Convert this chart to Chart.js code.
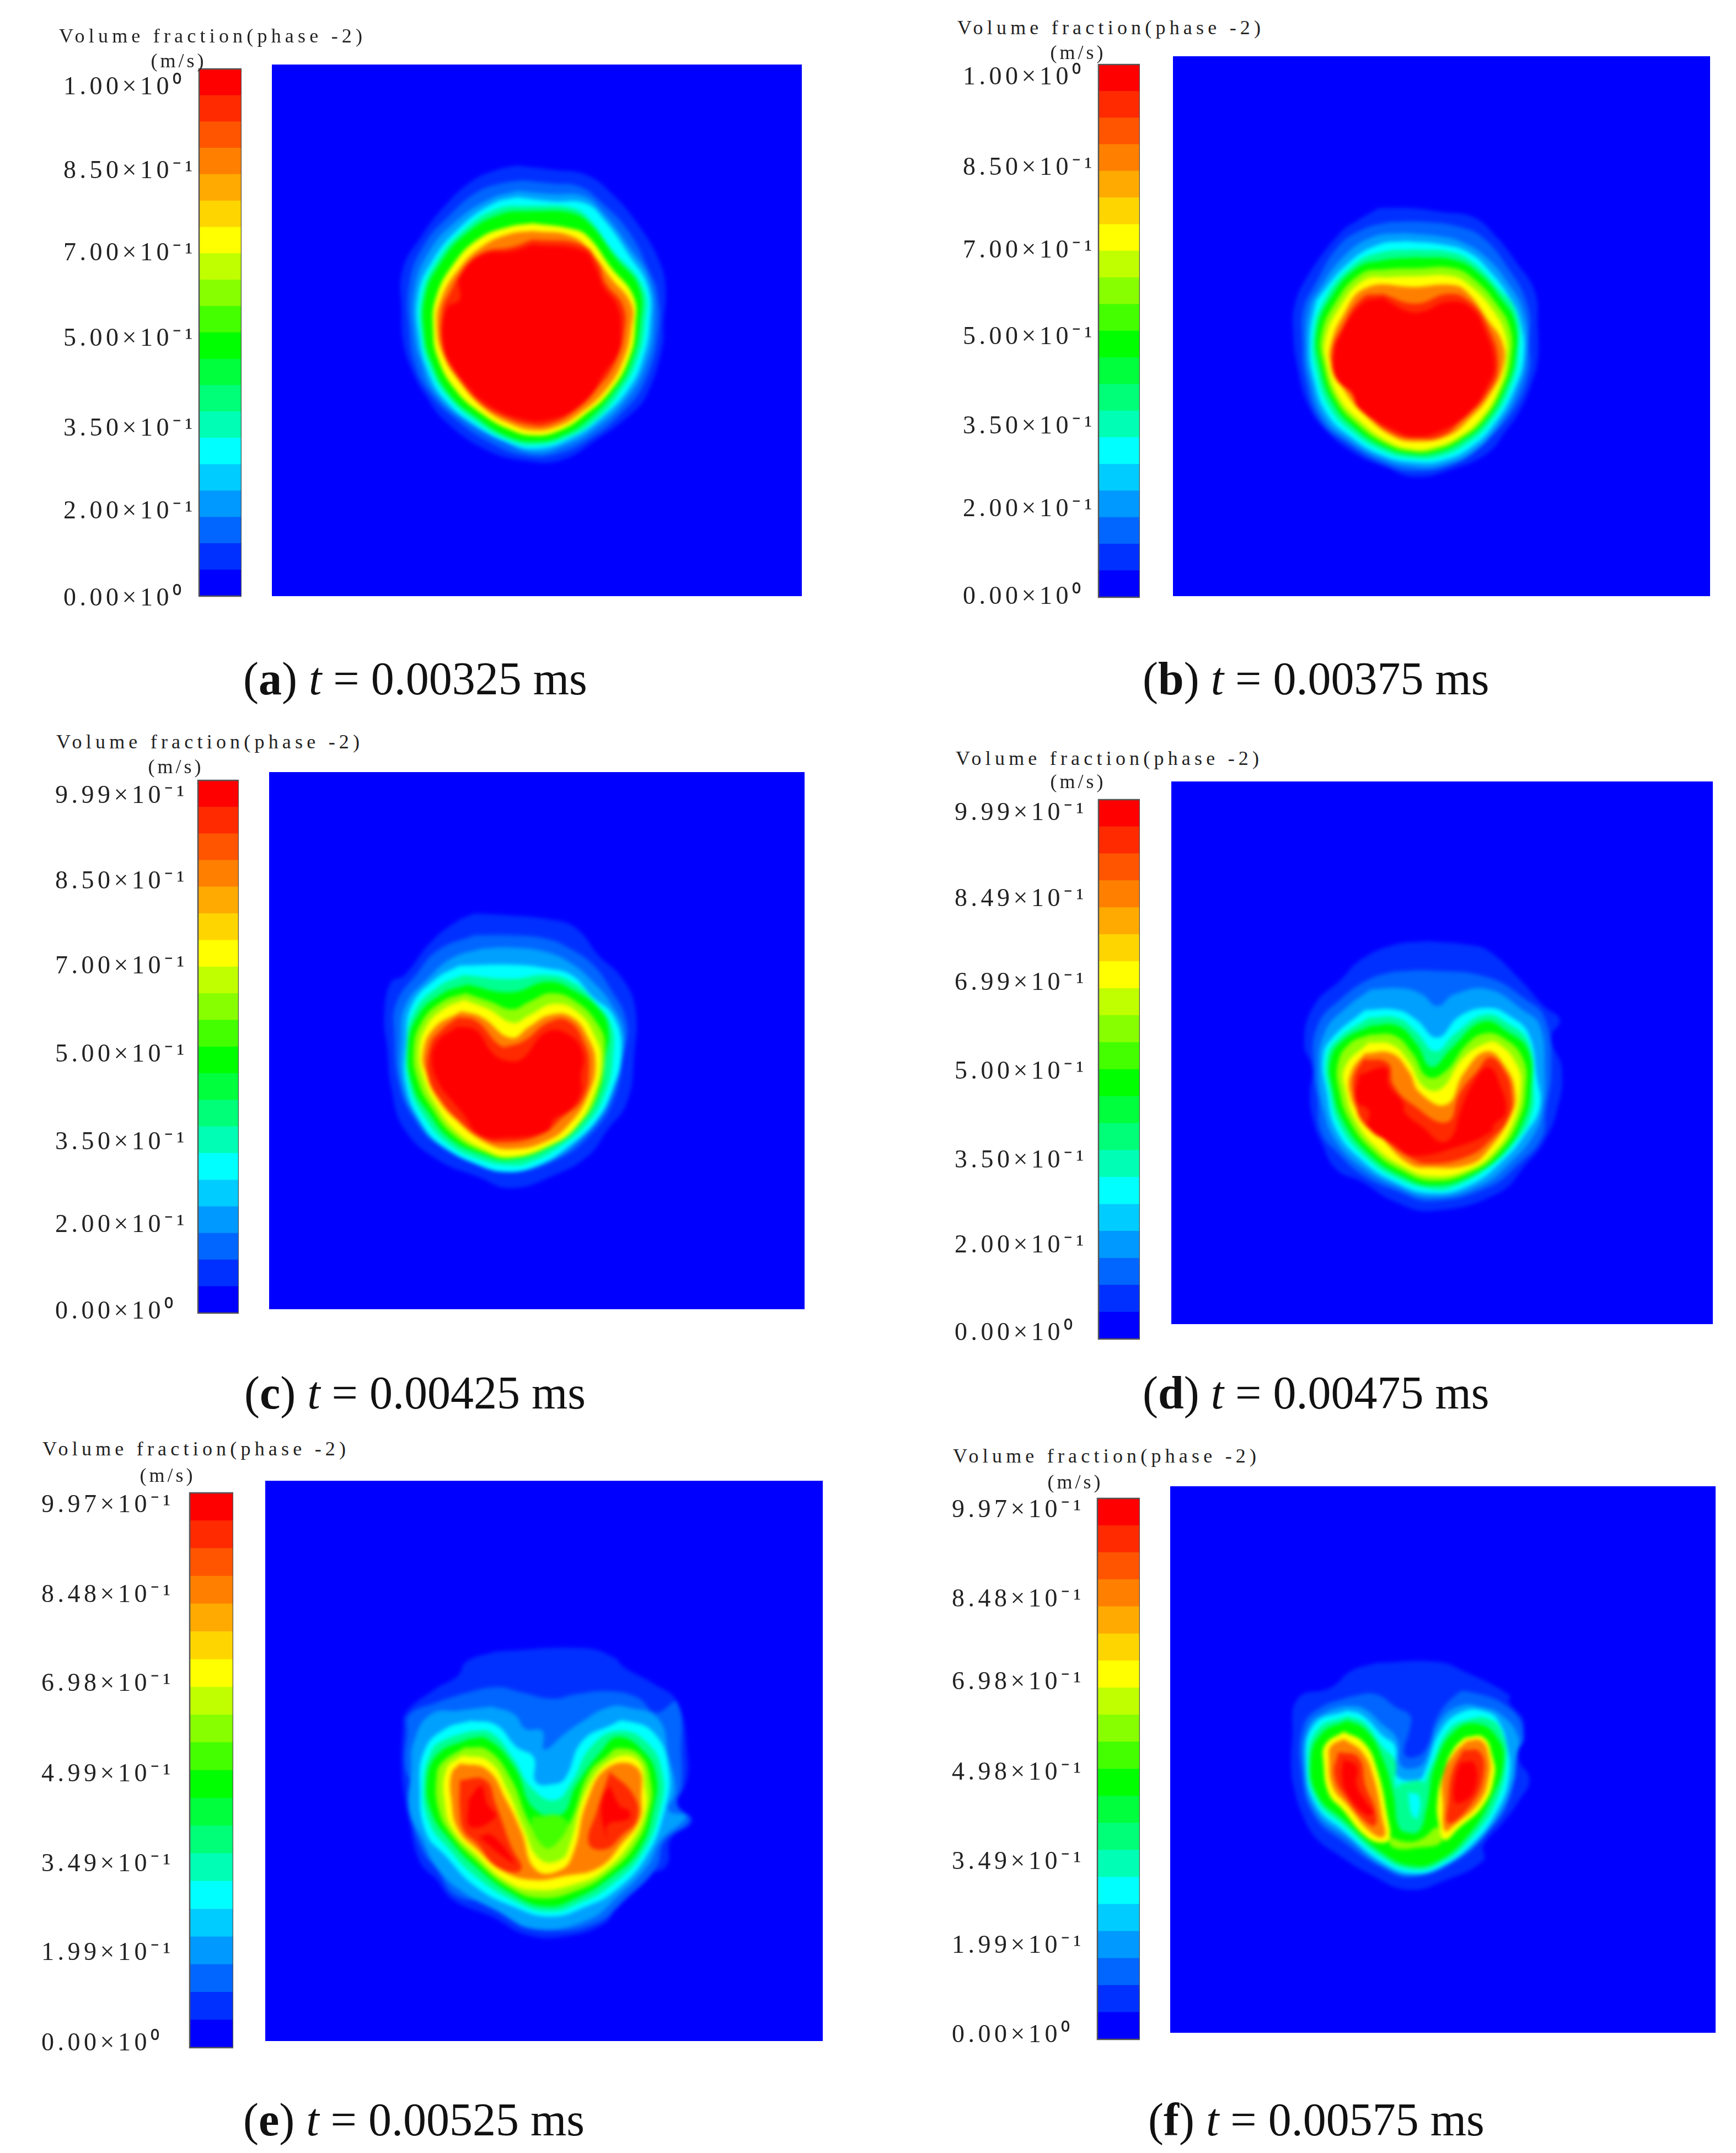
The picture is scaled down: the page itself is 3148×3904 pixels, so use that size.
<!DOCTYPE html>
<html>
<head>
<meta charset="utf-8">
<script src="https://cdn.jsdelivr.net/npm/chart.js@4"></script>
<style>
html, body { margin: 0; padding: 0; background: #fff; }
#page { position: relative; width: 3148px; height: 3904px; overflow: hidden; }
.clip { position: absolute; overflow: hidden; background: #0000ff; }
.clip canvas { position: absolute; filter: blur(3.5px); }
.bar { position: absolute; }
.legendTitle { position: absolute; font: 36px "Liberation Serif", serif; letter-spacing: 7.2px; color: #222; white-space: pre; transform: translateY(-50%); }
.unit { position: absolute; font: 36px "Liberation Serif", serif; letter-spacing: 5px; color: #222; transform: translate(-50%, -50%); }
.caption { position: absolute; font: 84px "Liberation Serif", serif; color: #111; white-space: pre; transform: translateY(-50%); }
</style>
</head>
<body>
<div id="page"></div>
<script>
// colour bar bands, bottom to top
var bandColors = ['#0000ff', '#0030ff', '#0066ff', '#0099ff', '#00ccff', '#00ffff', '#00ffb4', '#00ff78', '#00ff3c', '#00ff00',
                  '#44ff00', '#88ff00', '#c0ff00', '#ffff00', '#ffd500', '#ffaa00', '#ff8000', '#ff5500', '#ff2a00', '#ff0000'];

// contour fill colours used by the loops below
var levelColors = ['#0030ff', '#0066ff', '#00ffff', '#00ff00', '#ffff00', '#ff8000', '#ff2a00', '#ff0000', '#90ff00', '#00ff90', '#00a0ff', '', '#44ff00'];

var captionLetters = ['a', 'b', 'c', 'd', 'e', 'f'];
var captionTimes = ['0.00325', '0.00375', '0.00425', '0.00475', '0.00525', '0.00575'];

var tickLabelsA = ['1.00×10⁰', '8.50×10⁻¹', '7.00×10⁻¹', '5.00×10⁻¹', '3.50×10⁻¹', '2.00×10⁻¹', '0.00×10⁰'];
var tickLabelsB = tickLabelsA;
var tickLabelsC = ['9.99×10⁻¹', '8.50×10⁻¹', '7.00×10⁻¹', '5.00×10⁻¹', '3.50×10⁻¹', '2.00×10⁻¹', '0.00×10⁰'];
var tickLabelsD = ['9.99×10⁻¹', '8.49×10⁻¹', '6.99×10⁻¹', '5.00×10⁻¹', '3.50×10⁻¹', '2.00×10⁻¹', '0.00×10⁰'];
var tickLabelsE = ['9.97×10⁻¹', '8.48×10⁻¹', '6.98×10⁻¹', '4.99×10⁻¹', '3.49×10⁻¹', '1.99×10⁻¹', '0.00×10⁰'];
var tickLabelsF = ['9.97×10⁻¹', '8.48×10⁻¹', '6.98×10⁻¹', '4.98×10⁻¹', '3.49×10⁻¹', '1.99×10⁻¹', '0.00×10⁰'];

// where those labels sit on the bar, counted in bands from the bottom
var tickSpotsA = [19.3, 16.1, 13, 9.75, 6.35, 3.2, -0.1];
var tickSpotsB = [19.5, 16.1, 13, 9.75, 6.4, 3.3, 0];
var tickSpotsC = [19.4, 16.2, 13, 9.7, 6.4, 3.3, 0.05];
var tickSpotsD = [19.5, 16.3, 13.2, 9.9, 6.6, 3.45, 0.2];
var tickSpotsE = [19.55, 16.3, 13.1, 9.85, 6.6, 3.4, 0.15];
var tickSpotsF = [19.55, 16.25, 13.2, 9.85, 6.55, 3.45, 0.15];

// contour loops, x,y,x,y... in field units, one level index per loop
var loopLevelsA = [0, 1, 10, 2, 9, 3, 4, 5, 6, 7];
var loopsA = [
  [720,105, 900,125, 1075,150, 1210,245, 1340,390, 1440,550, 1475,680, 1465,860, 1460,960, 1380,1190, 1290,1290, 1130,1400, 950,1500, 770,1505, 560,1450, 350,1310, 255,1190, 195,1090, 145,950, 135,790, 140,600, 235,440, 360,290, 490,180, 620,125],
  [750,175, 900,190, 1040,205, 1150,280, 1290,420, 1400,620, 1432,700, 1440,880, 1370,1130, 1250,1280, 1090,1400, 930,1470, 770,1480, 590,1420, 400,1300, 260,1160, 200,1040, 175,900, 175,660, 250,480, 380,340, 520,230, 640,190],
  [720,225, 900,240, 1060,250, 1160,330, 1290,490, 1395,650, 1415,860, 1370,1060, 1270,1220, 1120,1350, 970,1430, 800,1465, 630,1400, 450,1310, 300,1180, 235,1040, 200,900, 200,700, 270,520, 410,370, 580,265],
  [720,255, 900,275, 1070,285, 1170,370, 1290,530, 1385,680, 1395,850, 1360,1020, 1290,1160, 1150,1300, 1000,1395, 830,1445, 680,1420, 500,1330, 350,1210, 270,1080, 225,920, 220,720, 290,560, 430,400, 600,285],
  [800,295, 1000,305, 1090,360, 1200,500, 1360,680, 1370,860, 1330,1030, 1250,1170, 1120,1310, 970,1395, 820,1428, 680,1405, 510,1315, 370,1200, 280,1060, 238,910, 240,720, 310,565, 445,415, 620,310],
  [800,320, 1000,330, 1100,390, 1220,540, 1340,680, 1345,860, 1300,1040, 1220,1170, 1080,1310, 950,1385, 820,1412, 680,1390, 520,1300, 380,1190, 290,1040, 250,900, 255,720, 330,570, 460,430, 640,335],
  [800,378, 1000,405, 1080,440, 1200,590, 1310,720, 1322,860, 1290,1020, 1190,1180, 1060,1290, 940,1360, 810,1385, 680,1355, 540,1280, 410,1170, 320,1020, 295,880, 310,730, 400,570, 530,450, 680,395],
  [800,415, 1000,440, 1100,520, 1200,640, 1300,760, 1300,880, 1260,1030, 1170,1170, 1040,1280, 930,1340, 810,1360, 690,1330, 560,1260, 440,1140, 350,1010, 315,880, 335,740, 430,590, 550,485, 680,430],
  [800,455, 1050,480, 1130,560, 1170,660, 1260,770, 1265,900, 1220,1040, 1130,1160, 1010,1270, 890,1330, 790,1335, 640,1290, 520,1220, 420,1110, 350,990, 340,800, 390,690, 440,610, 540,520, 700,490],
  [800,480, 1060,510, 1120,590, 1160,680, 1230,770, 1250,900, 1230,1000, 1170,1080, 1060,1230, 880,1310, 720,1300, 560,1230, 470,1150, 390,1050, 345,950, 365,780, 430,740, 430,630, 540,530, 700,510]
];

var loopLevelsB = [0, 1, 10, 2, 9, 3, 8, 4, 5, 6, 7];
var loopsB = [
  [600,105, 780,105, 950,125, 1115,150, 1240,250, 1345,375, 1450,530, 1465,700, 1465,880, 1430,1000, 1370,1130, 1290,1240, 1190,1350, 1000,1430, 800,1470, 640,1420, 470,1350, 310,1230, 215,1100, 160,920, 135,730, 145,590, 220,440, 390,230, 480,170],
  [660,175, 850,175, 1040,200, 1160,250, 1290,390, 1410,600, 1420,800, 1420,930, 1340,1120, 1180,1290, 1020,1400, 800,1440, 620,1400, 430,1300, 280,1180, 200,960, 185,780, 190,620, 250,500, 380,300, 520,210],
  [740,230, 950,250, 1060,280, 1180,350, 1300,480, 1390,640, 1405,850, 1360,1030, 1250,1210, 1120,1340, 950,1410, 800,1420, 620,1380, 430,1280, 300,1170, 225,970, 205,800, 225,610, 275,520, 410,350, 570,250],
  [750,272, 950,290, 1090,330, 1200,420, 1320,570, 1370,680, 1390,850, 1340,1020, 1230,1200, 1100,1320, 950,1385, 800,1395, 620,1360, 440,1260, 320,1150, 250,980, 225,800, 255,600, 290,540, 440,380, 600,290],
  [800,315, 1000,330, 1120,385, 1240,500, 1345,630, 1360,850, 1315,1020, 1205,1195, 1075,1305, 935,1365, 795,1375, 630,1340, 455,1240, 335,1120, 265,940, 245,765, 300,580, 460,395, 610,330],
  [800,355, 1020,370, 1150,440, 1270,570, 1340,680, 1345,850, 1290,1020, 1180,1190, 1050,1290, 920,1345, 790,1355, 640,1320, 470,1220, 350,1090, 280,900, 265,730, 340,560, 480,410, 620,370],
  [800,410, 1010,410, 1125,470, 1245,595, 1315,715, 1320,865, 1275,1015, 1170,1180, 1040,1280, 910,1332, 790,1342, 645,1305, 480,1200, 365,1075, 298,890, 288,750, 360,590, 500,440, 640,415],
  [800,450, 1000,450, 1100,500, 1220,620, 1290,750, 1295,880, 1260,1010, 1160,1170, 1030,1270, 900,1320, 790,1330, 650,1290, 490,1180, 380,1060, 315,880, 310,770, 380,620, 520,470, 660,455],
  [800,505, 1000,495, 1080,530, 1200,680, 1270,780, 1280,900, 1200,1060, 1100,1170, 980,1260, 800,1290, 670,1260, 510,1140, 420,1040, 340,890, 340,800, 400,660, 530,510],
  [620,540, 800,590, 980,540, 1090,575, 1190,700, 1250,900, 1180,1060, 1060,1170, 950,1260, 800,1275, 680,1250, 560,1170, 460,1050, 360,960, 350,820, 390,730, 510,560],
  [620,560, 760,630, 840,630, 980,580, 1100,610, 1180,730, 1230,900, 1190,1010, 1100,1140, 950,1230, 800,1265, 680,1230, 500,1130, 450,1040, 380,980, 355,870, 390,750, 510,590]
];

var loopLevelsC = [0, 1, 10, 2, 9, 3, 8, 4, 5, 6, 7];
var loopsC = [
  [600,105, 780,115, 1000,135, 1150,180, 1280,330, 1400,440, 1475,600, 1470,850, 1430,1100, 1320,1250, 1220,1380, 1040,1480, 800,1550, 620,1490, 400,1400, 220,1240, 150,1030, 125,800, 110,660, 145,470, 220,430, 360,260, 500,150],
  [600,220, 800,220, 1000,240, 1120,290, 1240,370, 1340,500, 1430,680, 1410,850, 1360,1080, 1240,1260, 1050,1400, 800,1460, 600,1400, 400,1320, 270,1180, 190,1000, 165,750, 175,580, 290,420, 400,300],
  [640,290, 800,285, 1000,310, 1130,370, 1240,460, 1350,590, 1415,750, 1380,950, 1310,1130, 1170,1300, 1000,1410, 790,1462, 600,1410, 415,1325, 300,1200, 210,1010, 200,760, 225,590, 345,450, 480,340],
  [520,380, 800,375, 1000,395, 1130,430, 1240,540, 1360,650, 1400,850, 1350,1040, 1270,1190, 1100,1340, 950,1430, 780,1465, 600,1420, 430,1330, 320,1220, 230,1010, 230,780, 260,590, 390,450],
  [540,430, 800,450, 1000,430, 1140,470, 1260,575, 1345,690, 1355,860, 1315,1045, 1220,1205, 1060,1335, 900,1415, 790,1430, 620,1395, 450,1310, 335,1185, 250,1015, 235,800, 275,620, 405,490],
  [560,480, 800,520, 1000,465, 1140,510, 1280,610, 1330,720, 1310,880, 1280,1050, 1170,1220, 1020,1330, 800,1400, 640,1370, 470,1290, 350,1150, 270,1020, 240,820, 290,650, 420,530],
  [552,525, 690,570, 805,610, 900,570, 1020,525, 1155,570, 1270,685, 1310,800, 1270,1055, 1160,1225, 1020,1325, 800,1392, 650,1360, 485,1270, 370,1130, 295,990, 270,825, 315,675, 425,570],
  [545,560, 680,610, 810,680, 900,640, 1040,580, 1170,630, 1260,760, 1290,880, 1250,1060, 1150,1230, 1020,1320, 800,1385, 660,1350, 500,1250, 390,1110, 320,960, 300,830, 340,700, 430,610],
  [530,620, 640,650, 800,760, 900,700, 1010,640, 1130,650, 1220,760, 1260,900, 1220,1060, 1130,1200, 1000,1300, 800,1345, 660,1310, 500,1190, 400,1080, 340,950, 320,850, 380,710],
  [510,650, 610,670, 740,800, 800,800, 880,770, 1000,680, 1110,670, 1200,790, 1225,920, 1190,1080, 1090,1170, 960,1270, 760,1310, 630,1280, 500,1180, 420,1090, 350,970, 360,800, 420,720],
  [510,700, 610,720, 700,840, 780,880, 860,870, 990,730, 1110,740, 1190,840, 1180,970, 1180,1050, 1120,1140, 1030,1190, 1000,1250, 780,1285, 630,1270, 540,1160, 470,1080, 420,1020, 370,890, 400,780]
];

var loopLevelsD = [0, 1, 10, 2, 9, 3, 8, 4, 5, 6, 7];
var loopsD = [
  [780,130, 1000,150, 1100,180, 1260,320, 1390,460, 1475,530, 1430,620, 1485,780, 1460,990, 1390,1150, 1300,1260, 1150,1410, 800,1500, 600,1450, 430,1350, 300,1290, 220,1150, 175,1030, 160,900, 175,780, 130,650, 180,460, 330,320, 420,230, 600,150],
  [600,285, 800,280, 1100,315, 1300,430, 1395,520, 1430,770, 1400,1000, 1380,1130, 1260,1260, 1100,1380, 800,1450, 620,1400, 440,1320, 300,1200, 220,1100, 200,930, 180,790, 200,560, 340,410, 480,320],
  [480,375, 650,370, 750,400, 830,460, 920,400, 1100,375, 1280,480, 1370,560, 1395,800, 1385,980, 1340,1110, 1220,1250, 1050,1375, 800,1430, 610,1375, 435,1280, 300,1150, 235,1000, 205,790, 240,590, 350,470],
  [450,480, 620,480, 720,530, 830,620, 950,510, 1100,470, 1210,510, 1310,600, 1355,830, 1370,970, 1300,1100, 1180,1240, 1000,1370, 800,1410, 600,1350, 430,1240, 300,1090, 250,900, 230,720, 280,620],
  [470,520, 620,520, 720,590, 820,690, 925,600, 1080,505, 1205,550, 1310,645, 1335,860, 1325,1010, 1240,1150, 1105,1275, 925,1375, 810,1390, 620,1335, 450,1225, 320,1070, 265,890, 250,725, 310,625],
  [480,560, 620,560, 720,650, 800,770, 900,680, 1070,540, 1200,590, 1310,690, 1320,900, 1280,1050, 1180,1200, 1030,1310, 820,1370, 640,1320, 470,1210, 340,1050, 280,880, 270,730, 340,630],
  [475,605, 605,610, 700,700, 780,820, 875,790, 980,660, 1075,600, 1175,620, 1280,725, 1295,890, 1255,1050, 1155,1200, 1015,1300, 810,1348, 640,1295, 485,1190, 370,1045, 315,890, 308,750, 370,650],
  [470,645, 590,655, 680,740, 760,870, 850,880, 960,730, 1080,650, 1150,650, 1250,760, 1270,880, 1230,1050, 1130,1200, 1000,1290, 800,1325, 640,1270, 500,1170, 400,1040, 350,900, 345,770],
  [450,700, 590,700, 680,790, 740,900, 880,960, 970,800, 1090,690, 1190,770, 1240,900, 1220,1010, 1100,1190, 1000,1265, 800,1280, 680,1260, 530,1120, 430,1020, 370,900, 380,790],
  [440,730, 570,750, 600,860, 700,960, 880,1050, 950,900, 1040,790, 1110,720, 1190,800, 1220,900, 1210,1020, 1120,1130, 1000,1220, 780,1260, 670,1220, 540,1130, 430,1040, 400,930, 390,830],
  [420,810, 560,775, 575,860, 650,950, 660,1000, 760,1080, 850,1150, 910,1120, 950,1000, 1020,850, 1100,770, 1160,860, 1190,1000, 1130,1060, 1110,1100, 950,1170, 700,1220, 600,1160, 470,1080, 470,990, 400,940]
];

var loopLevelsE = [0, 1, 10, 2, 9, 3, 12, 8, 4, 5, 6, 6, 7, 7, 7];
var loopsE = [
  [520,120, 940,105, 1080,150, 1130,200, 1270,280, 1380,370, 1430,650, 1420,770, 1380,870, 1450,950, 1350,1040, 1330,1170, 1240,1220, 1090,1370, 1040,1450, 860,1515, 670,1510, 500,1420, 320,1340, 240,1240, 160,1150, 110,950, 90,850, 75,700, 80,510, 95,420, 240,300, 340,240, 380,170],
  [370,325, 520,295, 640,320, 790,352, 900,330, 1050,315, 1190,345, 1280,420, 1380,370, 1400,640, 1400,780, 1380,870, 1440,950, 1320,1050, 1280,1180, 1130,1340, 1000,1450, 780,1490, 620,1450, 480,1360, 320,1310, 250,1200, 170,1090, 120,920, 120,780, 90,680, 100,520, 110,430, 240,370],
  [500,390, 610,430, 660,500, 740,510, 750,600, 850,520, 920,470, 1050,395, 1150,395, 1290,450, 1340,640, 1370,800, 1340,900, 1420,930, 1300,1050, 1240,1170, 1100,1320, 950,1440, 700,1480, 540,1400, 350,1290, 240,1180, 170,1040, 110,900, 120,700, 130,570, 210,430, 350,410],
  [400,460, 520,480, 620,590, 700,640, 710,760, 800,770, 850,740, 930,560, 1070,480, 1130,460, 1270,520, 1340,700, 1320,900, 1230,1130, 1090,1290, 950,1370, 780,1420, 600,1370, 420,1270, 280,1120, 190,1010, 160,790, 185,600, 280,500],
  [400,510, 500,520, 600,640, 690,790, 800,850, 880,760, 970,590, 1100,510, 1240,570, 1310,720, 1300,890, 1215,1110, 1075,1260, 925,1350, 770,1395, 600,1340, 420,1220, 290,1080, 205,960, 178,770, 215,610, 265,560],
  [390,550, 480,550, 610,690, 700,890, 830,920, 900,780, 1020,610, 1100,540, 1220,610, 1280,730, 1270,880, 1200,1090, 1060,1230, 900,1330, 760,1370, 600,1310, 420,1170, 300,1040, 220,920, 195,750, 250,620],
  [690,930, 840,935, 870,1060, 700,1070],
  [375,590, 485,605, 595,750, 670,940, 750,1080, 810,1060, 880,940, 960,720, 1050,630, 1100,595, 1205,630, 1255,765, 1250,890, 1185,1065, 1050,1210, 900,1295, 730,1330, 580,1275, 420,1140, 310,1020, 250,900, 240,725, 270,660],
  [360,630, 490,660, 580,810, 650,980, 730,1140, 830,1140, 870,1070, 950,800, 1070,650, 1190,650, 1230,800, 1230,900, 1170,1040, 1040,1190, 900,1260, 700,1290, 560,1240, 420,1110, 320,1000, 280,880, 285,700],
  [350,670, 480,700, 570,850, 640,1000, 710,1190, 830,1190, 890,1100, 950,860, 1050,690, 1190,690, 1210,850, 1200,950, 1120,1060, 1010,1180, 850,1220, 700,1240, 560,1200, 430,1090, 340,990, 310,850, 310,720],
  [350,750, 470,750, 520,870, 590,1070, 640,1190, 530,1180, 430,1060, 370,1000, 350,900],
  [1060,710, 1170,820, 1190,940, 1120,1020, 1040,1090, 960,1060, 1000,900],
  [390,850, 450,780, 480,870, 520,930, 400,980],
  [440,1030, 500,1020, 610,1160, 560,1130],
  [1060,780, 1110,880, 1150,900, 1150,940, 1050,970, 1050,1040, 1020,920, 1030,830]
];

var loopLevelsF = [0, 1, 10, 2, 9, 3, 9, 2, 8, 4, 4, 5, 5, 6, 6, 7, 7];
var loopsF = [
  [530,105, 860,100, 1000,150, 1250,280, 1250,320, 1330,430, 1300,620, 1360,740, 1300,860, 1220,970, 1110,1100, 1110,1180, 900,1290, 700,1340, 500,1260, 320,1150, 200,1060, 120,920, 80,790, 65,690, 70,520, 100,300, 280,240, 390,150],
  [380,290, 520,275, 640,350, 710,390, 710,460, 680,600, 730,620, 800,570, 860,400, 960,280, 1020,260, 1250,350, 1330,500, 1280,620, 1250,850, 1120,1040, 950,1190, 720,1270, 560,1220, 350,1080, 190,940, 120,700, 130,450, 220,350],
  [350,340, 450,350, 560,440, 640,520, 660,660, 730,680, 790,640, 870,430, 980,340, 1100,345, 1210,390, 1300,510, 1290,620, 1265,780, 1150,1000, 980,1160, 740,1260, 560,1210, 370,1060, 200,920, 135,680, 160,450, 260,370],
  [370,365, 450,390, 560,500, 630,560, 640,720, 760,740, 790,700, 880,470, 1000,370, 1120,370, 1190,420, 1240,560, 1250,720, 1190,900, 1050,1090, 870,1220, 720,1250, 560,1190, 350,1020, 200,880, 145,650, 190,440],
  [370,395, 460,430, 560,560, 630,640, 640,780, 760,790, 820,680, 920,470, 1040,410, 1140,410, 1210,480, 1235,640, 1180,860, 1040,1065, 870,1200, 720,1230, 560,1165, 350,990, 205,855, 158,645, 210,465],
  [370,420, 470,470, 560,620, 620,820, 650,1000, 700,1030, 760,1020, 800,900, 850,650, 960,470, 1090,440, 1190,520, 1220,640, 1160,830, 1030,1040, 870,1180, 720,1210, 560,1140, 350,960, 210,830, 170,640, 230,490],
  [650,760, 790,760, 770,900, 740,980, 690,980, 660,880],
  [700,810, 760,830, 750,950, 720,930],
  [590,1050, 700,1080, 780,1060, 860,1000, 880,1080, 760,1110, 620,1110],
  [350,480, 460,540, 530,680, 590,950, 600,1060, 560,1085, 470,1050, 340,900, 270,820, 240,650, 250,550],
  [1010,510, 1110,510, 1160,620, 1170,720, 1110,880, 970,1010, 900,1070, 870,1000, 860,850, 900,680, 950,570],
  [350,520, 450,590, 510,720, 560,950, 570,1050, 500,1030, 370,880, 290,780, 270,620, 280,560],
  [1020,530, 1100,530, 1140,620, 1140,720, 1090,860, 950,990, 900,1020, 890,880, 890,720, 950,600],
  [320,590, 430,620, 470,780, 520,900, 520,990, 460,960, 370,850, 300,720],
  [1000,580, 1090,590, 1110,720, 1040,880, 920,980, 920,850, 940,700],
  [350,630, 420,670, 420,770, 470,860, 510,920, 470,930, 370,820, 340,720],
  [985,650, 1060,650, 1060,800, 980,870, 950,850, 960,720]
];

// layout of the six panels on the page, all in page pixels
var panels = [
  { loops: loopsA, levels: loopLevelsA, labels: tickLabelsA, spots: tickSpotsA, plot: [493, 117, 1454, 1081], bar: [361, 125, 438, 1081], labelX: 115, titleX: 107, titleY: 65, unitX: 324, unitY: 110, capX: 441, capY: 1230, crop: [680, 260, 2.8, 2.613] },
  { loops: loopsB, levels: loopLevelsB, labels: tickLabelsB, spots: tickSpotsB, plot: [2127, 102, 3101, 1081], bar: [1992, 117, 2067, 1083], labelX: 1746, titleX: 1736, titleY: 50, unitX: 1955, unitY: 95, capX: 2072, capY: 1230, crop: [2300, 340, 3, 2.8] },
  { loops: loopsC, levels: loopLevelsC, labels: tickLabelsC, spots: tickSpotsC, plot: [488, 1400, 1459, 2374], bar: [359, 1415, 433, 2381], labelX: 100, titleX: 102, titleY: 1345, unitX: 319, unitY: 1390, capX: 443, capY: 2525, crop: [660, 1620, 3, 2.9] },
  { loops: loopsD, levels: loopLevelsD, labels: tickLabelsD, spots: tickSpotsD, plot: [2124, 1417, 3106, 2401], bar: [1992, 1450, 2067, 2428], labelX: 1731, titleX: 1733, titleY: 1375, unitX: 1955, unitY: 1417, capX: 2072, capY: 2525, crop: [2320, 1660, 2.9, 2.8] },
  { loops: loopsE, levels: loopLevelsE, labels: tickLabelsE, spots: tickSpotsE, plot: [481, 2685, 1492, 3701], bar: [344, 2707, 423, 3713], labelX: 75, titleX: 77, titleY: 2627, unitX: 304, unitY: 2675, capX: 441, capY: 3843, crop: [700, 2950, 2.613, 2.703] },
  { loops: loopsF, levels: loopLevelsF, labels: tickLabelsF, spots: tickSpotsF, plot: [2122, 2695, 3111, 3686], bar: [1990, 2717, 2067, 3698], labelX: 1726, titleX: 1728, titleY: 2640, unitX: 1950, unitY: 2687, capX: 2082, capY: 3843, crop: [2320, 2980, 3, 3] }
];

Chart.defaults.animation = false;
var page = document.getElementById('page');

function addText(cls, x, y, html) {
    var el = document.createElement('div');
    el.className = cls;
    el.style.left = x + 'px';
    el.style.top = y + 'px';
    el.innerHTML = html;
    page.appendChild(el);
}

function toPoints(flat) {
    var pts = [];
    for (var i = 0; i < flat.length; i += 2) {
        pts.push({ x: flat[i], y: flat[i + 1] });
    }
    pts.push({ x: flat[0], y: flat[1] });  // close the loop
    return pts;
}

function drawField(p) {
    var pad = 14;  // canvas hangs over the clip so the blur has no soft edge
    var w = p.plot[2] - p.plot[0], h = p.plot[3] - p.plot[1];
    var clip = document.createElement('div');
    clip.className = 'clip';
    clip.style.cssText = 'left:' + p.plot[0] + 'px;top:' + p.plot[1] + 'px;width:' + w + 'px;height:' + h + 'px';
    var canvas = document.createElement('canvas');
    canvas.width = w + pad * 2;
    canvas.height = h + pad * 2;
    canvas.style.left = -pad + 'px';
    canvas.style.top = -pad + 'px';
    clip.appendChild(canvas);
    page.appendChild(clip);

    var sets = p.loops.map(function (flat, i) {
        return {
            data: toPoints(flat),
            showLine: true,
            fill: 'shape',
            tension: 0.45,
            pointRadius: 0,
            borderWidth: 0,
            backgroundColor: levelColors[p.levels[i]],
            order: -i,
        };
    });
    new Chart(canvas, {
        type: 'scatter',
        data: { datasets: sets },
        options: {
            responsive: false,
            layout: { padding: 0 },
            plugins: { legend: { display: false }, tooltip: { enabled: false } },
            scales: {
                x: { type: 'linear', display: false,
                     min: (p.plot[0] - pad - p.crop[0]) * p.crop[2],
                     max: (p.plot[2] + pad - p.crop[0]) * p.crop[2] },
                y: { type: 'linear', display: false, reverse: true,
                     min: (p.plot[1] - pad - p.crop[1]) * p.crop[3],
                     max: (p.plot[3] + pad - p.crop[1]) * p.crop[3] },
            },
        },
    });
}

var barOutline = {
    id: 'barOutline',
    beforeDraw: function (chart) { chart.ctx.letterSpacing = '6.5px'; },
    afterDraw: function (chart) {
        var a = chart.chartArea, ctx = chart.ctx;
        ctx.save();
        ctx.strokeStyle = '#555';
        ctx.lineWidth = 2.5;
        ctx.strokeRect(a.left, a.top, a.right - a.left, a.bottom - a.top);
        ctx.restore();
    },
};

function drawColorBar(p) {
    var padY = 40;
    var canvas = document.createElement('canvas');
    canvas.className = 'bar';
    canvas.width = p.bar[2] - p.labelX;
    canvas.height = p.bar[3] - p.bar[1] + padY * 2;
    canvas.style.left = p.labelX + 'px';
    canvas.style.top = (p.bar[1] - padY) + 'px';
    page.appendChild(canvas);

    var sets = bandColors.map(function (c) {
        return { data: [1], backgroundColor: c, stack: 'bar', barPercentage: 1, categoryPercentage: 1 };
    });
    new Chart(canvas, {
        type: 'bar',
        data: { labels: [''], datasets: sets },
        options: {
            responsive: false,
            layout: { padding: { top: padY, bottom: padY } },
            plugins: { legend: { display: false }, tooltip: { enabled: false } },
            scales: {
                x: { display: false, stacked: true },
                y: {
                    stacked: true, min: 0, max: bandColors.length,
                    grid: { display: false }, border: { display: false },
                    afterFit: function (s) { s.width = p.bar[0] - p.labelX; },
                    afterBuildTicks: function (s) {
                        s.ticks = p.spots.map(function (v) { return { value: v }; });
                    },
                    ticks: {
                        autoSkip: false, crossAlign: 'far', padding: 0, color: '#222',
                        font: { family: 'Liberation Serif', size: 46 },
                        callback: function (v, i) { return p.labels[i]; },
                    },
                },
            },
        },
        plugins: [barOutline],
    });
}

panels.forEach(function (p, i) {
    drawField(p);
    drawColorBar(p);
    addText('legendTitle', p.titleX, p.titleY, 'Volume fraction(phase -2)');
    addText('unit', p.unitX, p.unitY, '(m/s)');
    addText('caption', p.capX, p.capY, '(<b>' + captionLetters[i] + '</b>) <i>t</i> = ' + captionTimes[i] + ' ms');
});
</script>
</body>
</html>
